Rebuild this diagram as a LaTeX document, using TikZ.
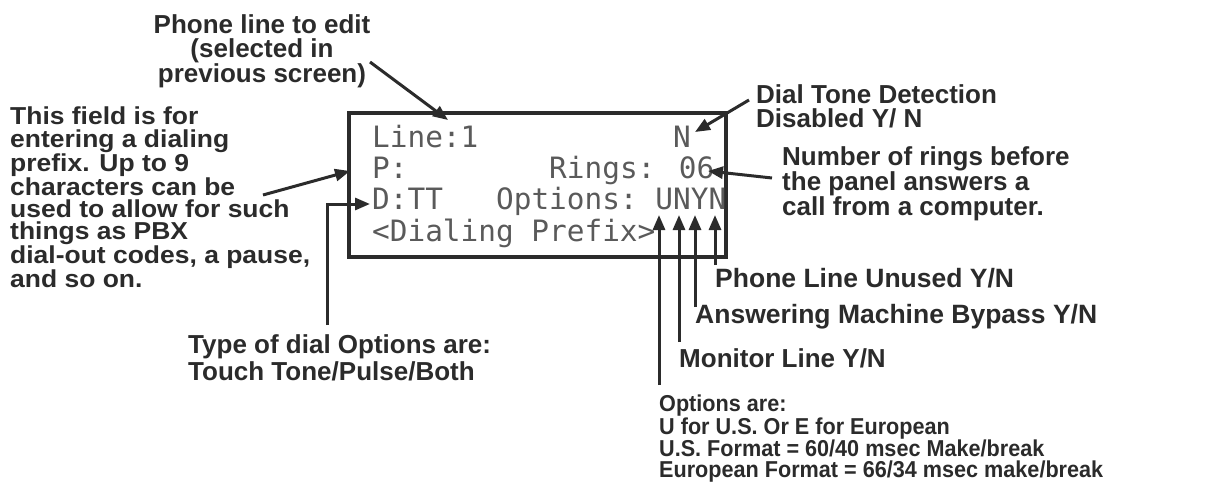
\documentclass[tikz,border=0pt]{standalone}
\usepackage{fontspec}
\setmainfont{Liberation Sans}
\newfontfamily\lcdfont{DejaVu Sans Mono}
\newfontfamily\widefont[FakeStretch=1.08]{Liberation Sans}
\newfontfamily\narrowfont[FakeStretch=0.94]{Liberation Sans}
\usetikzlibrary{arrows.meta}
\definecolor{ink}{HTML}{2B2B2B}
\definecolor{lcdink}{HTML}{5A5A5A}

\begin{document}
\begin{tikzpicture}[x=1pt,y=-1pt,
  lbl/.style={font=\bfseries\fontsize{26}{24.5}\selectfont,text=ink,inner sep=0pt,align=left},
  lcd/.style={font=\lcdfont\fontsize{29.4}{31}\selectfont,text=lcdink,inner sep=0pt,anchor=base west},
  arr/.style={draw=ink,line width=3pt,-{Triangle[length=15pt,width=12pt]}}]
\useasboundingbox (0,0) rectangle (1208,482);
\draw[ink,line width=4pt] (349,113) rectangle (726,257);
% display
\node[lcd] (lcdline) at (372,147) {Line:1};
\node[lcd] (lcddt) at (672.9,147) {N};
\node[lcd] (lcdp) at (372,178) {P:};
\node[lcd] (lcdrings) at (549,178) {Rings: 06};
\node[lcd] (lcddial) at (372,209) {D:TT};
\node[lcd] (lcdopt) at (495.9,209) {Options:};
\foreach \ch/\k in {U/16,N/17,Y/18,N/19}
  \node[lcd] (opt\k) at ({372+\k*17.7},209) {\ch};
\node[lcd] (lcdprefix) at (372,241) {<Dialing Prefix>};
% labels
\node[lbl,align=center,anchor=north] (phonelbl) at (262,14) {Phone line to edit\\(selected in\\previous screen)};
\node[lbl,font=\widefont\bfseries\fontsize{24.5}{22.3}\selectfont,anchor=north west] (prefixlbl) at (10,107)
  {This field is for\\entering a dialing\\prefix. Up to 9\\characters can be\\used to allow for such\\things as PBX\\dial-out codes, a pause,\\and so on.};
\node[lbl,font=\bfseries\fontsize{26}{27}\selectfont,anchor=north west] (dialtypelbl) at (188,334) {Type of dial Options are:\\Touch Tone/Pulse/Both};
\node[lbl,font=\bfseries\fontsize{26}{24}\selectfont,anchor=north west] (dtlbl) at (756,84) {Dial Tone Detection\\Disabled Y/ N};
\node[lbl,font=\bfseries\fontsize{26}{24}\selectfont,anchor=north west] (ringslbl) at (782,146) {Number of rings before\\the panel answers a\\call from a computer.};
\node[lbl,font=\bfseries\fontsize{26.5}{26}\selectfont,anchor=base west] (unusedlbl) at (715,287) {Phone Line Unused Y/N};
\node[lbl,font=\bfseries\fontsize{26.5}{26}\selectfont,anchor=base west] (bypasslbl) at (695,323) {Answering Machine Bypass Y/N};
\node[lbl,anchor=base west] (monitorlbl) at (679,367) {Monitor Line Y/N};
\node[lbl,font=\narrowfont\bfseries\fontsize{23}{20.8}\selectfont,anchor=north west] (optslbl) at (659,395)
  {Options are:\\U for U.S. Or E for European\\U.S. Format = 60/40 msec Make/break\\European Format = 66/34 msec make/break};
% arrows
\coordinate (phonefoot) at (370,62);
\coordinate (phonetip) at (448,120);
\coordinate (prefixfoot) at (263,195);
\coordinate (prefixtip) at (350,171);
\coordinate (dialfoot) at (327,325);
\coordinate (dialtip) at (370,204);
\coordinate (dtfoot) at (749,100);
\coordinate (dttip) at (695,132);
\coordinate (ringsfoot) at (772,178);
\coordinate (ringstip) at (708,171);
\coordinate (opttip) at (0,215);
\foreach \k/\x/\y in {16/659/385,17/679/342,18/695/307,19/715/265}
  \coordinate (foot\k) at (\x,\y);
\draw[arr] (phonefoot) -- (phonetip);
\draw[arr] (prefixfoot) -- (prefixtip);
\draw[arr] (dialfoot) |- (dialtip);
\draw[arr] (dtfoot) -- (dttip);
\draw[arr] (ringsfoot) -- (ringstip);
\foreach \k in {16,...,19}
  \draw[arr] (foot\k) -- (foot\k |- opttip);
\end{tikzpicture}
\end{document}
